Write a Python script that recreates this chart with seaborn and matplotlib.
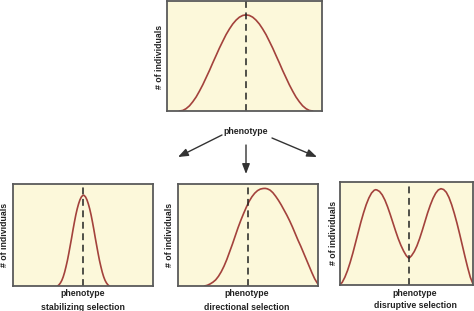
import matplotlib
matplotlib.use("Agg")
import matplotlib.pyplot as plt
import seaborn as sns
import pandas as pd

# ---- data (phenotype position 0-100, # of individuals 0-100) ----
orig_x = [8, 10.2, 12.3, 14.5, 16.6, 18.8, 20.9, 23.1, 25.2, 27.4, 29.5, 31.7, 33.8, 36, 38.1,
          40.3, 42.4, 44.6, 46.7, 48.9, 51, 53.1, 55.3, 57.4, 59.6, 61.7, 63.9, 66, 68.2, 70.3,
          72.5, 74.6, 76.8, 78.9, 81.1, 83.2, 85.4, 87.5, 89.7, 91.8, 94]
orig_y = [0, 0.5, 2.1, 4.7, 8.3, 12.7, 17.9, 23.8, 30.1, 36.7, 43.5, 50.3, 56.9, 63.2, 69.1,
          74.3, 78.7, 82.3, 84.9, 86.5, 87, 86.5, 84.9, 82.3, 78.7, 74.3, 69.1, 63.2, 56.9, 50.3,
          43.5, 36.7, 30.1, 23.8, 17.9, 12.7, 8.3, 4.7, 2.1, 0.5, 0]

stab_x = [32, 33, 34, 35, 36, 37, 38, 39, 40, 41, 42, 43, 44, 45, 46, 47, 48, 49, 50, 50.5,
          51, 52, 53, 54, 55, 56, 57, 58, 59, 60, 61, 62, 63, 64, 65, 66, 67, 68, 69]
stab_y = [0, 1.2, 3, 5.5, 9, 13.5, 19, 25, 32, 39.5, 47, 55, 62.5, 69.5, 75.5, 80.5, 84.5, 87.3,
          88.8, 89, 88.8, 87.3, 84.5, 80.5, 75.5, 69.5, 62.5, 55, 47, 39.5, 32, 25, 19, 13.5, 9,
          5.5, 3, 1.2, 0]

dirc_x = [19, 21, 23, 25, 27, 29, 31, 33, 35, 37, 39, 41, 43, 45, 47, 49, 51, 53, 55, 57, 59,
          61, 62.5, 64, 66, 68, 70, 72, 74, 76, 78, 80, 82, 84, 86, 88, 90, 92, 94, 96, 98, 100]
dirc_y = [0, 0.7, 2, 3.7, 6, 9.5, 14, 19.5, 26, 33.5, 41, 49, 57, 64.3, 71, 77.3, 83, 87.5, 91,
          93.5, 95, 95.6, 95.7, 95.3, 94, 91.5, 88, 84, 79.5, 74.5, 69.5, 64, 58, 51.5, 45, 39,
          32.5, 26, 19.5, 13, 7, 2.5]

disr_x = [0, 2, 4, 6, 8, 10, 12, 14, 16, 18, 20, 22, 24, 26, 27, 28, 30, 32, 34, 36, 38, 40,
          42, 44, 46, 48, 50, 51.5, 52, 52.5, 54, 56, 58, 60, 62, 64, 66, 68, 70, 72, 74, 76,
          78, 80, 82, 84, 86, 88, 90, 92, 94, 96, 98, 100]
disr_y = [0, 2.5, 7.5, 14, 22, 31, 41, 51, 61, 70, 78, 84.5, 89.3, 92, 92.5, 92.3, 90.8, 87.5,
          82.5, 76, 68.5, 60.5, 52.5, 45, 38.5, 33, 28.5, 26.5, 26.2, 26.5, 28.5, 32.5, 38, 45,
          53, 61.5, 70, 77.5, 84, 89, 92.3, 93.5, 92.7, 90, 85, 78, 69.5, 60, 49.5, 38.5, 27.5,
          17, 7.5, 1]

mean_top = 51
mean_stab = 50.5
mean_dirc = 50.5
mean_disr = 52

ylabel = "# of individuals"
xlabel = "phenotype"
titles = ["stabilizing selection", "directional selection", "disruptive selection"]

# ---- style ----
sns.set_style("white")
FONT = ["Liberation Sans Narrow", "Liberation Sans", "DejaVu Sans"]
plt.rcParams["font.family"] = FONT

BG = "#FCF8DA"
CURVE = "#A3423C"
SPINE = "#5a5a5a"
TXT = "#222222"

W, H = 474, 311
fig = plt.figure(figsize=(W / 100, H / 100), dpi=100)


def px_axes(x0, y0, x1, y1):
    return fig.add_axes([x0 / W, 1 - y1 / H, (x1 - x0) / W, (y1 - y0) / H])


def panel(ax, xs, ys, mean):
    df = pd.DataFrame({"phenotype": xs, "count": ys})
    sns.lineplot(data=df, x="phenotype", y="count", ax=ax, color=CURVE, lw=1.2,
                 sort=False, estimator=None)
    ax.axvline(mean, color="#222222", lw=1.1, ls=(0, (4.5, 3)))
    ax.set_xlim(0, 100)
    ax.set_ylim(0, 100)
    ax.set_facecolor(BG)
    ax.set_xticks([])
    ax.set_yticks([])
    ax.set_xlabel("")
    ax.set_ylabel("")
    for s in ax.spines.values():
        s.set_visible(True)
        s.set_color(SPINE)
        s.set_linewidth(1.3)


ax0 = px_axes(167, 0.5, 322, 111)
panel(ax0, orig_x, orig_y, mean_top)
ax1 = px_axes(13, 184, 152.5, 286)
panel(ax1, stab_x, stab_y, mean_stab)
ax2 = px_axes(178, 184, 317.5, 286)
panel(ax2, dirc_x, dirc_y, mean_dirc)
ax3 = px_axes(339.5, 182, 473, 285)
panel(ax3, disr_x, disr_y, mean_disr)

fs = 6.3


def ftext(x, y, s, rot=0):
    fig.text(x / W, 1 - y / H, s, ha="center", va="center", rotation=rot,
             fontsize=fs, fontweight="bold", color=TXT, family=FONT)


ftext(159, 57, ylabel, rot=90)
ftext(5, 235, ylabel, rot=90)
ftext(170, 235, ylabel, rot=90)
ftext(333, 233, ylabel, rot=90)

ftext(246, 132, xlabel)
ftext(83, 294, xlabel)
ftext(247, 294, xlabel)
ftext(415, 293, xlabel)
ftext(83, 307, titles[0])
ftext(247, 307, titles[1])
ftext(415, 306, titles[2])

arrows = [((222, 135), (178, 157)), ((246, 145), (246, 174)), ((272, 138), (317, 157))]
for (sx, sy), (ex, ey) in arrows:
    fig.add_artist(matplotlib.patches.FancyArrowPatch(
        (sx / W, 1 - sy / H), (ex / W, 1 - ey / H), transform=fig.transFigure,
        arrowstyle="-|>,head_length=6,head_width=2.3", color="#333333", lw=1.0,
        shrinkA=0, shrinkB=0, mutation_scale=1))

fig.savefig("out.png", dpi=100)
